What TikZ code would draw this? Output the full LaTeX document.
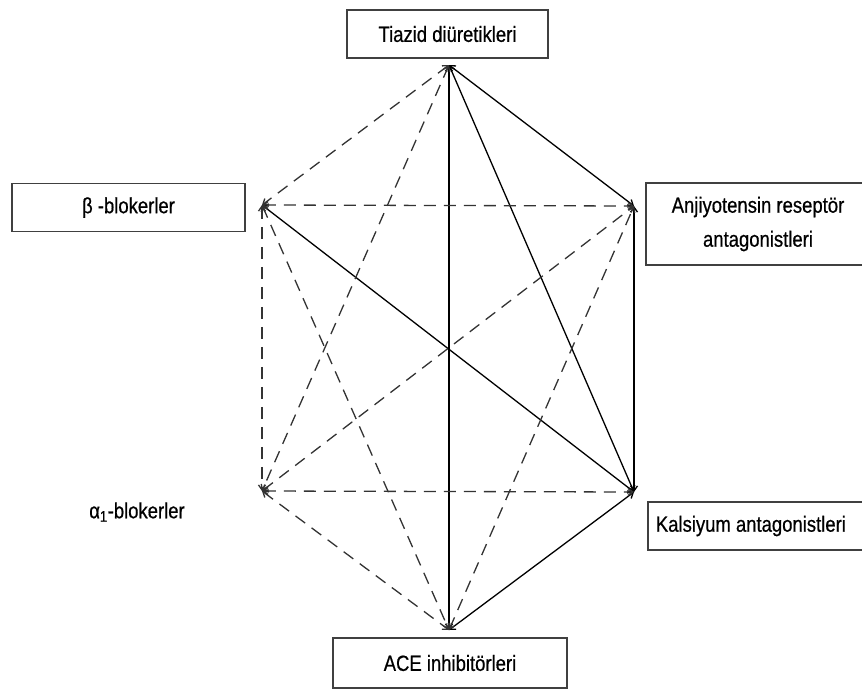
\documentclass[tikz,border=0pt]{standalone}
\usepackage{fontspec}
\setmainfont{Liberation Sans}[FakeStretch=0.84, FakeBold=0.6]
\usepackage{tikz}
\usetikzlibrary{positioning,arrows.meta}

\begin{document}
\begin{tikzpicture}[x=1pt, y=-1pt, every node/.style={font=\fontsize{22}{34}\selectfont},
  drug/.style={rectangle, draw=black!75, line width=1.8pt, inner sep=0pt, minimum height=48pt},
  pair/.style={black, line width=1.3pt, {Straight Barb[length=5pt,width=7pt]}-{Straight Barb[length=5pt,width=7pt]}},
  weak/.style={pair, black!80, dash pattern=on 12pt off 8pt}]
  \useasboundingbox (0,0) rectangle (862,689);
  % corners of the hexagon
  \coordinate (tz) at (449,65);
  \coordinate (bb) at (262,205);
  \coordinate (arb) at (634,206);
  \coordinate (ab) at (262,491);
  \coordinate (ca) at (634,492);
  \coordinate (ace) at (449,630);
  % drug class labels
  \node[drug, minimum width=201pt] (tzl) at (447.5,34) {Tiazid diüretikleri};
  \node[drug, minimum width=233pt] (bbl) at (128.5,207.5) {β -blokerler};
  \node[drug, minimum width=224pt, minimum height=82pt, align=center] (arbl) at (758,224) {Anjiyotensin reseptör\\antagonistleri};
  \node (abl) at (137,512) {α\textsubscript{1}-blokerler};
  \node[drug, anchor=west, text width=207pt, inner xsep=8pt, align=flush left] (cal) at (647,526) {Kalsiyum antagonistleri};
  \node[drug, minimum width=234pt, minimum height=50pt] (acel) at (450,663) {ACE inhibitörleri};
  % preferred combinations
  \draw[pair] (tz) -- (ace);
  \draw[pair] (tz) -- (arb);
  \draw[pair] (tz) -- (ca);
  \draw[pair] (bb) -- (ca);
  \draw[pair] (arb) -- (ca);
  \draw[pair] (ca) -- (ace);
  % other combinations
  \draw[weak] (tz) -- (bb);
  \draw[weak] (tz) -- (ab);
  \draw[weak] (bb) -- (arb);
  \draw[weak] (bb) -- (ab);
  \draw[weak] (bb) -- (ace);
  \draw[weak] (ab) -- (arb);
  \draw[weak] (ab) -- (ca);
  \draw[weak] (ab) -- (ace);
  \draw[weak] (ace) -- (arb);
\end{tikzpicture}
\end{document}
